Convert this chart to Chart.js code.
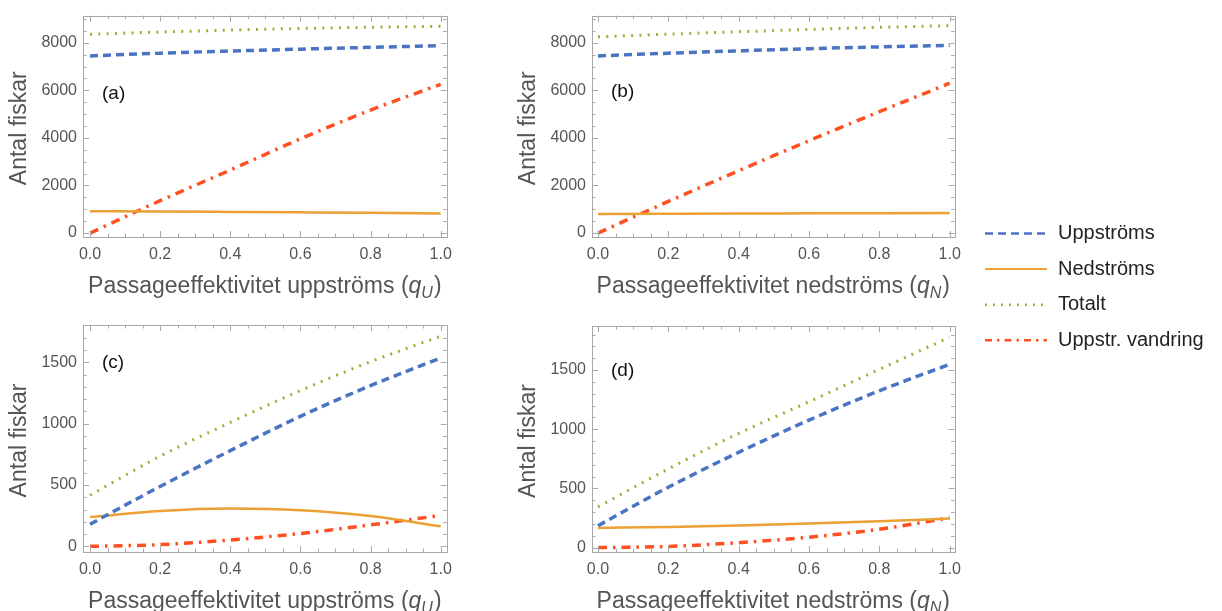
<!DOCTYPE html>
<html>
<head>
<meta charset="utf-8">
<script src="https://cdn.jsdelivr.net/npm/chart.js@4.4.1/dist/chart.umd.min.js"></script>
<style>
  body { margin: 0; background: #fff; width: 1222px; height: 611px; position: relative; overflow: hidden; }
  canvas { position: absolute; }
</style>
</head>
<body>
<canvas id="panelA" width="460" height="305" style="left:0;top:0"></canvas>
<canvas id="panelB" width="460" height="305" style="left:509px;top:0"></canvas>
<canvas id="panelC" width="460" height="311" style="left:0;top:300px"></canvas>
<canvas id="panelD" width="460" height="311" style="left:509px;top:300px"></canvas>
<canvas id="legend" width="247" height="150" style="left:975px;top:210px"></canvas>
<script>
// Data
var qVals = [0, 0.2, 0.4, 0.6, 0.8, 1.0];
var seriesNames = ['Uppströms', 'Nedströms', 'Totalt', 'Uppstr. vandring'];
var xTickVals = [0, 0.2, 0.4, 0.6, 0.8, 1.0];
var xTickLabels = ['0.0', '0.2', '0.4', '0.6', '0.8', '1.0'];
var yTicksTop = [0, 2000, 4000, 6000, 8000];
var yTicksBottom = [0, 500, 1000, 1500];
var panelLabels = ['(a)', '(b)', '(c)', '(d)'];
var xTitles = ['Passageeffektivitet uppströms', 'Passageeffektivitet nedströms', 'Passageeffektivitet uppströms', 'Passageeffektivitet nedströms'];
var xSubs = ['U', 'N', 'U', 'N'];
var yTitle = 'Antal fiskar';

// (a) varierad uppströms passage
var uppA  = [7447, 7560, 7650, 7730, 7806, 7876];
var nedA  = [920, 905, 888, 870, 850, 825];
var totA  = [8355, 8450, 8530, 8600, 8650, 8690];
var vandA = [0, 1360, 2650, 3960, 5170, 6252];

// (b) varierad nedströms passage
var uppB  = [7447, 7560, 7660, 7750, 7825, 7890];
var nedB  = [805, 813, 821, 830, 838, 846];
var totB  = [8248, 8360, 8460, 8560, 8645, 8718];
var vandB = [0, 1330, 2620, 3880, 5100, 6297];

// (c)
var uppC  = [180, 488, 780, 1060, 1310, 1535];
var nedC  = [239, 288, 308, 295, 248, 163];
var totC  = [416, 735, 1010, 1270, 1505, 1713];
var vandC = [0, 14, 52, 105, 175, 252];

// (d)
var uppD  = [185, 510, 805, 1077, 1325, 1548];
var nedD  = [166, 175, 187, 203, 222, 245];
var totD  = [344, 665, 965, 1232, 1506, 1777];
var vandD = [0, 10, 42, 88, 155, 252];

var FONT = '"Liberation Sans", Arial, sans-serif';
var lineStyles = [
  { color: '#4a74c2', width: 3.5, dash: [8, 5],          legendWidth: 2.5, legendDash: [8, 5] },
  { color: '#eba133', width: 2.5, dash: [],              legendWidth: 2,   legendDash: [] },
  { color: '#8cb836', width: 3,   dash: [2, 6.3],        legendWidth: 2.5, legendDash: [2, 6] },
  { color: '#ff5022', width: 3.5, dash: [9, 6, 2.5, 6],  legendWidth: 2.5, legendDash: [7, 5, 2.5, 5] }
];

// ram med inåtriktade tickmarkeringar på alla fyra sidor
var framePlugin = {
  id: 'frame',
  afterDraw: function (chart, args, o) {
    var ctx = chart.ctx, a = chart.chartArea, x = chart.scales.x, y = chart.scales.y;
    ctx.save();
    ctx.strokeStyle = '#a8a8a8';
    ctx.lineWidth = 1;
    ctx.strokeRect(Math.round(a.left) + 0.5, Math.round(a.top) + 0.5, Math.round(a.width), Math.round(a.height));
    ctx.beginPath();
    for (var i = 0; i <= 20; i++) {
      var v = i * 0.05;
      var px = Math.round(x.getPixelForValue(v)) + 0.5;
      var len = (i % 4 === 0) ? 6 : 3.5;
      ctx.moveTo(px, a.bottom); ctx.lineTo(px, a.bottom - len);
      ctx.moveTo(px, a.top); ctx.lineTo(px, a.top + len);
    }
    for (var w = 0; w <= y.max; w += o.minor) {
      var py = Math.round(y.getPixelForValue(w)) + 0.5;
      var l2 = (w % o.major === 0) ? 6 : 3.5;
      ctx.moveTo(a.left, py); ctx.lineTo(a.left + l2, py);
      ctx.moveTo(a.right, py); ctx.lineTo(a.right - l2, py);
    }
    ctx.stroke();
    ctx.restore();
  }
};

// axeltitlar och panelbokstav
var textPlugin = {
  id: 'texts',
  afterDraw: function (chart, args, o) {
    var ctx = chart.ctx, a = chart.chartArea;
    ctx.save();
    ctx.fillStyle = '#555';
    ctx.font = '23px ' + FONT;
    ctx.textAlign = 'center';
    ctx.textBaseline = 'middle';
    ctx.save();
    ctx.translate(a.left - 63, (a.top + a.bottom) / 2 + 2);
    ctx.rotate(-Math.PI / 2);
    ctx.fillText(yTitle, 0, 0);
    ctx.restore();

    // x-titel med kursivt q och nedsänkt index
    ctx.textAlign = 'left';
    ctx.textBaseline = 'alphabetic';
    var main = o.title + ' (';
    var fMain = '23px ' + FONT, fIt = 'italic 23px ' + FONT, fSub = 'italic 16px ' + FONT;
    ctx.font = fMain; var w1 = ctx.measureText(main).width, w4 = ctx.measureText(')').width;
    ctx.font = fIt; var w2 = ctx.measureText('q').width;
    ctx.font = fSub; var w3 = ctx.measureText(o.sub).width;
    var total = w1 + w2 + w3 + 1 + w4;
    var x0 = (a.left + a.right) / 2 - total / 2, yb = a.bottom + 56;
    ctx.font = fMain; ctx.fillText(main, x0, yb);
    ctx.font = fIt; ctx.fillText('q', x0 + w1, yb);
    ctx.font = fSub; ctx.fillText(o.sub, x0 + w1 + w2, yb + 5);
    ctx.font = fMain; ctx.fillText(')', x0 + w1 + w2 + w3 + 1, yb);

    ctx.fillStyle = '#111';
    ctx.font = '19px ' + FONT;
    ctx.textBaseline = 'middle';
    ctx.fillText(o.label, a.left + o.lx, a.top + o.ly);
    ctx.restore();
  }
};

function makeDatasets(upp, ned, tot, vand) {
  return [upp, ned, tot, vand].map(function (vals, i) {
    var s = lineStyles[i];
    return {
      label: seriesNames[i],
      data: qVals.map(function (q, k) { return { x: q, y: vals[k] }; }),
      borderColor: s.color,
      borderWidth: s.width,
      borderDash: s.dash,
      pointRadius: 0,
      cubicInterpolationMode: 'monotone',
      fill: false
    };
  });
}

function makePanel(id, idx, data, cfg) {
  var ctx = document.getElementById(id).getContext('2d');
  return new Chart(ctx, {
    type: 'line',
    data: { datasets: makeDatasets.apply(null, data) },
    plugins: [framePlugin, textPlugin],
    options: {
      responsive: false,
      animation: false,
      layout: { padding: { top: cfg.padTop, right: cfg.padRight, left: 0, bottom: 0 } },
      plugins: {
        legend: { display: false },
        tooltip: { enabled: false },
        frame: { major: cfg.yMajor, minor: cfg.yMinor },
        texts: { title: xTitles[idx], sub: xSubs[idx], label: panelLabels[idx], lx: cfg.lx, ly: cfg.ly }
      },
      scales: {
        x: {
          type: 'linear',
          min: cfg.xMin, max: cfg.xMax,
          grid: { display: false, drawTicks: false },
          border: { display: false },
          afterBuildTicks: function (s) { s.ticks = xTickVals.map(function (v) { return { value: v }; }); },
          afterFit: function (s) { s.height = cfg.xHeight; },
          ticks: {
            padding: 8,
            color: '#555',
            font: { family: FONT, size: 16 },
            maxRotation: 0,
            callback: function (v) { return xTickLabels[xTickVals.indexOf(v)]; }
          }
        },
        y: {
          type: 'linear',
          min: cfg.yMin, max: cfg.yMax,
          grid: { display: false, drawTicks: false },
          border: { display: false },
          afterBuildTicks: function (s) { s.ticks = cfg.yTicks.map(function (v) { return { value: v }; }); },
          afterFit: function (s) { s.width = 83; },
          ticks: {
            padding: 6,
            color: '#555',
            font: { family: FONT, size: 16 },
            callback: function (v) { return String(v); }
          }
        }
      }
    }
  });
}

makePanel('panelA', 0, [uppA, nedA, totA, vandA], {
  padTop: 12, padRight: 11, xHeight: 68, xMin: -0.02, xMax: 1.017,
  yMin: -165, yMax: 9140, yTicks: yTicksTop, yMajor: 2000, yMinor: 500, lx: 19, ly: 78
});
makePanel('panelB', 1, [uppB, nedB, totB, vandB], {
  padTop: 12, padRight: 14, xHeight: 68, xMin: -0.017, xMax: 1.014,
  yMin: -165, yMax: 9140, yTicks: yTicksTop, yMajor: 2000, yMinor: 500, lx: 19, ly: 76
});
makePanel('panelC', 2, [uppC, nedC, totC, vandC], {
  padTop: 25, padRight: 11, xHeight: 59, xMin: -0.02, xMax: 1.017,
  yMin: -46, yMax: 1804, yTicks: yTicksBottom, yMajor: 500, yMinor: 100, lx: 19, ly: 38
});
makePanel('panelD', 3, [uppD, nedD, totD, vandD], {
  padTop: 26, padRight: 14, xHeight: 59, xMin: -0.017, xMax: 1.014,
  yMin: -37, yMax: 1872, yTicks: yTicksBottom, yMajor: 500, yMinor: 100, lx: 19, ly: 45
});

// gemensam teckenförklaring
(function () {
  var c = document.getElementById('legend').getContext('2d');
  c.font = '20px ' + FONT;
  c.textBaseline = 'middle';
  for (var i = 0; i < seriesNames.length; i++) {
    var s = lineStyles[i];
    var y = 23.5 + i * 35.6;
    c.save();
    c.strokeStyle = s.color;
    c.lineWidth = s.legendWidth;
    c.setLineDash(s.legendDash);
    c.beginPath();
    c.moveTo(10, y); c.lineTo(72, y);
    c.stroke();
    c.restore();
    c.fillStyle = '#222';
    c.fillText(seriesNames[i], 83, y);
  }
})();
</script>
</body>
</html>
